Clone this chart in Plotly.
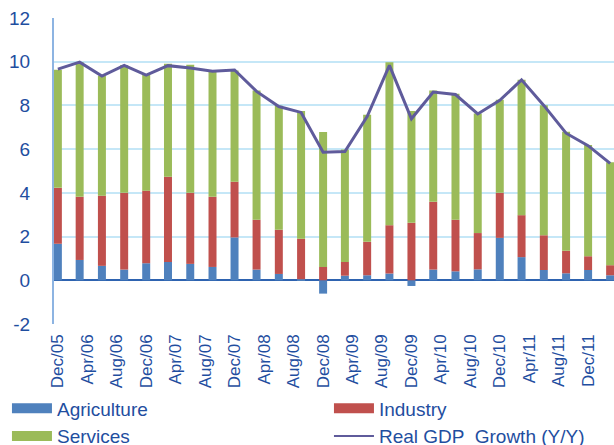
import plotly.graph_objects as go

dates = ["2005-12-01", "2006-03-01", "2006-06-01", "2006-09-01", "2006-12-01",
         "2007-03-01", "2007-06-01", "2007-09-01", "2007-12-01", "2008-03-01",
         "2008-06-01", "2008-09-01", "2008-12-01", "2009-03-01", "2009-06-01",
         "2009-09-01", "2009-12-01", "2010-03-01", "2010-06-01", "2010-09-01",
         "2010-12-01", "2011-03-01", "2011-06-01", "2011-09-01", "2011-12-01",
         "2012-03-01"]

agriculture = [1.67, 0.93, 0.66, 0.49, 0.78, 0.84, 0.75, 0.61, 1.96, 0.49,
               0.29, 0.05, -0.61, 0.21, 0.23, 0.31, -0.26, 0.49, 0.41, 0.50,
               1.94, 1.06, 0.47, 0.32, 0.47, 0.23]
industry = [2.56, 2.89, 3.21, 3.51, 3.32, 3.90, 3.25, 3.21, 2.55, 2.28,
            2.02, 1.85, 0.61, 0.63, 1.53, 2.21, 2.63, 3.10, 2.36, 1.66,
            2.06, 1.92, 1.59, 1.03, 0.63, 0.46]
services = [5.40, 6.16, 5.49, 5.85, 5.29, 5.17, 5.86, 5.72, 5.09, 5.91,
            5.67, 5.85, 6.18, 5.14, 5.81, 7.45, 5.12, 5.09, 5.76, 5.47,
            4.26, 6.19, 5.95, 5.45, 5.09, 4.71]
gdp = [9.66, 9.98, 9.34, 9.83, 9.39, 9.82, 9.71, 9.56, 9.62, 8.64,
       7.95, 7.68, 5.86, 5.89, 7.49, 9.83, 7.39, 8.61, 8.50, 7.61,
       8.23, 9.17, 8.00, 6.73, 6.16, 5.35]

y_tickvals = [-2, 0, 2, 4, 6, 8, 10, 12]
y_ticktext = ["-2", "0", "2", "4", "6", "8", "10", "12"]

C_AGR = "#4F81BD"
C_IND = "#C0504D"
C_SER = "#9BBB59"
C_GDP = "#5F5B9B"
TXT = "#1F4E9F"
FONT = "Arial, Liberation Sans, sans-serif"
BAR_W = 33 * 86400000

fig = go.Figure()
for name, vals, col in [("Agriculture", agriculture, C_AGR),
                        ("Industry", industry, C_IND),
                        ("Services", services, C_SER)]:
    fig.add_trace(go.Bar(x=dates, y=vals, name=name, marker_color=col,
                         marker_line_width=0, width=BAR_W, showlegend=False))

fig.add_trace(go.Scatter(x=dates, y=gdp, mode="lines", showlegend=False,
                         line=dict(color=C_GDP, width=3)))

# legend entries (wide swatches like the original), in two columns
for name, col, w, lg in [("Agriculture", C_AGR, 10, "legend"),
                         ("Services", C_SER, 10, "legend"),
                         ("Industry", C_IND, 10, "legend2"),
                         ("Real GDP  Growth (Y/Y)", C_GDP, 2, "legend2")]:
    fig.add_trace(go.Scatter(x=[None], y=[None], mode="lines", name=name,
                             legend=lg, line=dict(color=col, width=w)))

leg_common = dict(orientation="v", xref="paper", yref="container",
                  y=0.125, xanchor="left", yanchor="top",
                  font=dict(size=19, color=TXT), tracegroupgap=0,
                  itemwidth=40, bgcolor="rgba(0,0,0,0)")

fig.update_layout(
    width=614, height=445,
    barmode="relative",
    paper_bgcolor="white", plot_bgcolor="white",
    margin=dict(l=54, r=0, t=18, b=121),
    font=dict(family=FONT, color=TXT),
    legend=dict(x=-0.084, **leg_common),
    legend2=dict(x=0.491, **leg_common),
    xaxis=dict(type="date", range=["2005-11-15", "2012-03-17"],
               tick0="2005-12-01", dtick="M4", tickformat="%b/%y",
               tickangle=-90, tickfont=dict(size=17, color=TXT),
               showgrid=False, zeroline=False, showline=False,
               ticks="", ticklabelstandoff=6, automargin=False),
    yaxis=dict(range=[-2, 12], tickvals=y_tickvals, ticktext=y_ticktext,
               tickfont=dict(size=19, color=TXT),
               gridcolor="#C5E7F7", gridwidth=1.5,
               zeroline=True, zerolinecolor="#2E63B0", zerolinewidth=1.5,
               showline=True, linecolor="#8DB4E2", linewidth=2,
               ticks="", ticklabelstandoff=18, automargin=False),
)

fig.write_html("out.html", config={"displayModeBar": False},
               post_script="document.body.style.margin='0';document.body.style.overflow='hidden';")
